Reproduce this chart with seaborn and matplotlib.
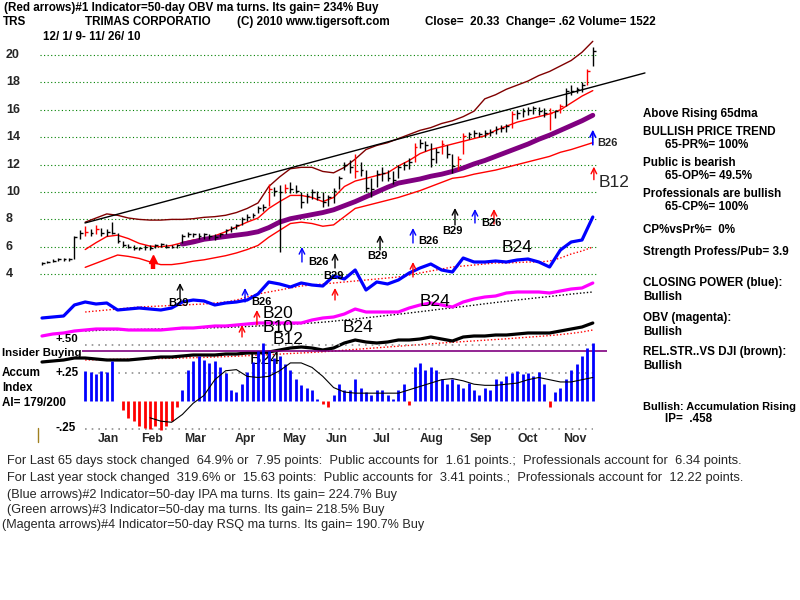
import numpy as np
import matplotlib
matplotlib.use("Agg")
import matplotlib.pyplot as plt
import matplotlib.transforms as mtransforms
from matplotlib.lines import Line2D
import seaborn as sns

sns.set_theme(style="white")
plt.rcParams['font.family'] = ['Liberation Sans', 'DejaVu Sans']

# ---------------- data (x = week index, 0 = first week of Dec 2009) ----------------
bar_weeks = np.arange(0, 51.01, 0.5)
price_high = [4.9, 5.0, 5.1, 5.2, 5.2, 5.2, 6.8, 7.2,
              7.5, 7.3, 7.6, 7.4, 7.3, 7.8, 7.0, 6.4,
              6.2, 6.1, 6.0, 6.1, 6.1, 6.2, 6.3, 6.2,
              6.1, 6.2, 6.9, 7.1, 7.0, 7.0, 7.0, 6.9,
              6.9, 7.0, 7.3, 7.5, 7.7, 8.2, 8.4, 8.5,
              9.0, 9.1, 10.6, 10.4, 10.5, 10.6, 10.7, 10.5,
              10.0, 9.9, 10.2, 10.1, 10.0, 9.8, 10.3, 11.2,
              12.2, 12.3, 12.8, 12.2, 11.6, 11.0, 11.6, 11.8,
              11.6, 11.5, 12.0, 12.2, 12.5, 13.6, 13.9, 13.7,
              13.6, 13.2, 13.8, 13.4, 12.8, 12.6, 14.3, 14.4,
              14.5, 14.4, 14.5, 14.6, 14.8, 14.9, 15.0, 15.9,
              16.0, 16.1, 16.2, 16.3, 16.2, 16.1, 16.1, 16.0,
              16.4, 17.6, 17.8, 17.7, 18.0, 19.0, 20.6]
price_low = [4.7, 4.8, 4.9, 5.0, 5.0, 5.0, 5.1, 6.6,
             6.8, 6.8, 6.9, 6.8, 6.8, 6.9, 6.3, 6.0,
             5.9, 5.8, 5.8, 5.8, 5.8, 5.9, 6.0, 5.9,
             5.9, 5.9, 6.3, 6.7, 6.7, 6.6, 6.6, 6.6,
             6.5, 6.7, 6.9, 7.1, 7.3, 7.6, 7.9, 8.1,
             8.5, 8.6, 9.0, 9.7, 5.6, 9.9, 9.9, 9.9,
             8.8, 9.2, 9.5, 9.4, 8.9, 9.0, 9.2, 10.2,
             11.6, 11.4, 11.0, 11.2, 10.0, 9.6, 10.4, 10.8,
             10.8, 10.6, 11.0, 11.6, 11.7, 12.2, 13.2, 13.0,
             11.8, 12.1, 12.8, 12.5, 11.4, 11.6, 12.8, 13.9,
             14.0, 14.0, 14.0, 14.1, 14.2, 14.4, 14.4, 14.7,
             15.3, 15.5, 15.6, 15.7, 15.6, 15.5, 14.5, 15.4,
             15.8, 16.3, 17.1, 17.2, 17.3, 17.8, 19.2]
price_close = [4.8, 4.9, 5.0, 5.1, 5.1, 5.1, 6.7, 7.0,
               7.1, 7.0, 7.3, 7.0, 7.1, 7.0, 6.4, 6.1,
               6.0, 5.9, 5.9, 6.0, 5.9, 6.1, 6.2, 6.0,
               6.0, 6.1, 6.8, 6.9, 6.9, 6.8, 6.9, 6.8,
               6.7, 6.9, 7.2, 7.4, 7.6, 8.0, 8.2, 8.3,
               8.8, 8.9, 10.2, 10.1, 10.0, 10.3, 10.2, 10.1,
               9.3, 9.7, 10.0, 9.6, 9.3, 9.6, 10.1, 11.0,
               12.0, 11.8, 11.5, 11.6, 10.3, 10.2, 11.3, 11.4,
               11.0, 10.9, 11.8, 12.0, 12.2, 13.3, 13.6, 13.4,
               12.4, 12.9, 13.5, 12.8, 11.9, 12.4, 14.1, 14.2,
               14.3, 14.2, 14.3, 14.4, 14.6, 14.7, 14.8, 15.7,
               15.8, 15.9, 16.0, 16.1, 15.9, 15.8, 15.8, 15.9,
               16.3, 17.4, 17.4, 17.5, 17.8, 18.8, 20.3]
red_bars = [8, 10, 42, 45, 58, 69, 74, 77, 78, 87, 94, 96, 101]

weeks = np.arange(52)
band_weeks = np.arange(4, 52)
upper_band = [7.8, 8.1, 8.4, 8.3, 8.1, 8.0, 7.95, 7.95, 8.0, 8.0,
              8.05, 8.15, 8.2, 8.3, 8.5, 8.8, 9.2, 10.4, 11.1, 11.7,
              11.8, 11.8, 11.5, 11.4, 11.8, 12.4, 13.1, 13.4, 13.6, 13.9,
              14.2, 14.5, 14.7, 15.0, 15.2, 15.5, 15.9, 16.8, 17.1, 17.5,
              17.8, 18.1, 18.5, 18.8, 19.2, 19.6, 20.2, 21.0]
mid_band = [5.8, 6.3, 6.75, 6.85, 6.6, 6.25, 6.05, 6.0, 6.1, 6.3,
            6.5, 6.6, 6.8, 7.1, 7.45, 7.8, 8.1, 8.8, 9.3, 9.75,
            9.75, 9.6, 9.3, 9.6, 10.4, 10.8, 11.0, 11.2, 11.4, 11.9,
            12.3, 12.8, 13.1, 13.3, 13.5, 13.7, 13.9, 14.1, 14.5, 14.8,
            15.1, 15.3, 15.5, 15.7, 16.0, 16.5, 17.0, 17.4]
low_band = [4.5, 4.8, 5.1, 5.4, 5.3, 5.15, 4.9, 4.7, 4.7, 4.8,
            4.95, 5.05, 5.2, 5.35, 5.55, 5.8, 6.1, 6.7, 7.2, 7.7,
            7.8, 7.7, 7.5, 7.6, 8.2, 8.8, 9.0, 9.2, 9.4, 9.6,
            9.85, 10.1, 10.4, 10.7, 11.0, 11.1, 11.3, 11.45, 11.6, 11.8,
            12.0, 12.2, 12.4, 12.6, 12.9, 13.1, 13.35, 13.6]
ma65_weeks = np.arange(13, 52)
ma65 = [6.2, 6.35, 6.55, 6.65, 6.75, 6.85, 6.95, 7.1, 7.4, 7.8,
        8.05, 8.2, 8.35, 8.5, 8.7, 9.0, 9.3, 9.65, 10.0, 10.35,
        10.65, 10.8, 10.95, 11.15, 11.3, 11.5, 11.75, 12.05, 12.3, 12.6,
        12.9, 13.2, 13.5, 13.85, 14.15, 14.5, 14.85, 15.2, 15.6]
trend_weeks = [3.98, 55.83]
trend_price = [7.74, 18.69]
price_ticks = [20, 18, 16, 14, 12, 10, 8, 6, 4]

# indicator panel (arbitrary units)
closing_power = [52, 53, 54, 65, 68, 66, 67, 60, 61, 62,
                 61, 60, 62, 68, 70, 69, 65, 67, 68, 70,
                 76, 88, 86, 83, 87, 85, 84, 94, 91, 100,
                 80, 88, 86, 90, 97, 102, 106, 100, 98, 112,
                 108, 108, 109, 108, 110, 111, 108, 103, 120, 128,
                 130, 153]
cp_ma = [58, 59, 60, 61, 62, 63, 63.5, 64, 64.5, 65,
         65.5, 66, 67, 68, 70, 73, 76, 78, 80, 82,
         84, 85, 86, 87, 88, 89, 90, 91, 92, 93,
         95, 97, 99, 101, 103, 104, 105, 106, 107, 107,
         107.5, 108, 108, 109, 112, 116, 119, 123]
obv = [34, 36, 37, 39, 40, 41, 41, 41, 40, 40,
       40, 40, 41, 42, 42, 43, 44, 44, 45, 46,
       47, 47, 47, 47, 47, 50, 52, 53, 56, 61,
       58, 58, 58, 58, 62, 65, 67, 65, 63, 68,
       71, 73, 74, 77, 78, 78, 78, 77, 79, 81,
       82, 87]
obv_ma = [39, 39.5, 40, 40.2, 40.4, 40.6, 40.8, 41, 41.2, 41.5,
          41.8, 42, 42.3, 42.6, 43, 43.5, 44, 44.6, 45.2, 45.8,
          46.4, 47, 47.8, 48.8, 50, 51, 52.2, 53.4, 54.6, 55.8,
          57, 58.3, 59.6, 61, 62.2, 63.5, 64.8, 66.2, 67.5, 68.7,
          70, 71.2, 72.4, 73.5, 74.7, 75.9, 77, 78]
rel_str = [8, 9, 10, 12, 12, 11, 10, 10, 10, 11,
           12, 13, 13, 14, 15, 15, 15, 16, 16, 17,
           17, 18, 20, 22, 23, 22, 20, 22, 27, 30,
           28, 27, 28, 30, 30, 31, 33, 31, 29, 33,
           34, 34, 35, 35, 36, 37, 37, 37, 39, 41,
           43, 47]
rs_ma = [10, 10.3, 10.5, 10.7, 10.9, 11.1, 11.3, 11.5, 11.7, 12,
         12.3, 12.6, 13, 13.4, 13.8, 14.3, 14.8, 15.3, 15.9, 16.5,
         17, 17.6, 18.2, 19, 19.8, 20.6, 21.4, 22.2, 23, 23.8,
         24.6, 25.4, 26.2, 27, 27.7, 28.4, 29.1, 29.8, 30.5, 31.2,
         32, 32.8, 33.6, 34.4, 35.4, 36.6, 38, 40]

# accumulation index (half-week steps, weeks 4..51)
acc_weeks = np.arange(4, 51.01, 0.5)
accum = [.27, .26, .24, .27, .26, .36, .0, -.08,
         -.15, -.18, -.22, -.24, -.25, -.22, -.26, -.22,
         -.18, -.05, .10, .28, .36, .40, .37, .34,
         .36, .30, .25, .10, .08, .15, .26, .35,
         .45, .52, .45, .38, .40, .33, .28, .20,
         .14, .12, .10, .02, -.03, -.05, .05, .15,
         .10, .10, .20, .12, .08, .05, .10, .10,
         .05, .02, .10, .15, -.04, .30, .34, .28,
         .30, .28, .20, .15, .20, .15, .12, .16,
         .10, .05, .12, .10, .20, .18, .22, .25,
         .27, .24, .25, .22, .26, .15, -.05, .08,
         .12, .20, .28, .33, .40, .47, .52]
acc_ma_weeks = np.arange(10, 52)
accum_ma = [-.15, -.18, -.19, -.12, -.02, .05, .19, .27, .28, .22,
            .21, .22, .27, .34, .34, .30, .22, .12, .08, .07,
            .07, .07, .07, .07, .10, .13, .16, .19, .20, .18,
            .15, .14, .14, .15, .16, .19, .21, .19, .17, .17,
            .19, .21]
insider_level = 0.45
acc_levels = [0.5, 0.25, -0.25]

months = ['Jan', 'Feb', 'Mar', 'Apr', 'May', 'Jun', 'Jul', 'Aug', 'Sep', 'Oct', 'Nov']
month_weeks = [6.11, 10.19, 14.17, 18.8, 23.33, 27.31, 31.48, 36.1, 40.65, 44.99, 49.35]

# buy signals in the indicator panel: week, arrow from, arrow to, colour
sig_week = [38.24, 40.09, 41.85, 34.35, 31.3, 24.07, 27.13, 27.13, 34.35, 12.78, 18.8, 19.9, 18.52]
sig_from = [145, 147, 146, 127, 120, 108, 102, 70, 93, 72, 68, 45, 33]
sig_to = [162, 161, 161, 142, 135, 123, 117, 82, 108, 87, 82, 60, 45]
sig_color = ['black', 'blue', 'red', 'blue', 'black', 'blue', 'black', 'red', 'red',
             'black', 'blue', 'red', 'red']
lab_text = ['B29', 'B26', 'B26', 'B29', 'B26', 'B29', 'B29', 'B26',
            'B20', 'B10', 'B12', 'B24', 'B24', 'B24', 'B24']
lab_week = [37.04, 40.65, 34.81, 30.1, 24.63, 26.02, 11.67, 19.35,
            20.46, 20.46, 21.4, 19.26, 27.87, 35.0, 42.6]
lab_level = [139, 147, 129, 114, 108, 94, 67, 68,
             57, 43, 30, 10, 42, 68, 122]
lab_big = [False] * 8 + [True] * 7

# ---------------- layout helpers (pixel boxes on an 800x600 canvas) ----------------
W, H = 800, 600
X0, X1 = 40, 600
XW0, PXW = 42.0, 10.8   # pixel of week 0, pixels per week
fig = plt.figure(figsize=(8, 6), dpi=100)
fig.patch.set_facecolor('white')
MAIN = 8.4


def box(y0, y1):
    return [X0 / W, 1 - y1 / H, (X1 - X0) / W, (y1 - y0) / H]


def wk(px):
    return (px - XW0) / PXW


xlim = (wk(X0), wk(X1))


def t(x, y, s, size=MAIN, weight='bold', **kw):
    return fig.text(x / W, 1 - y / H, s, fontsize=size, fontweight=weight,
                    va='center', ha='left', color='black', **kw)


def clean(ax):
    ax.set_xlim(*xlim)
    ax.patch.set_alpha(0)
    for s in ax.spines.values():
        s.set_visible(False)
    ax.set_xticks([])
    ax.set_yticks([])
    ax.set_xlabel('')
    ax.set_ylabel('')


# ---------------- price panel ----------------
ax_p = fig.add_axes(box(30, 290))
clean(ax_p)
ax_p.set_ylim(20 - (290 - 55) / 13.7, 20 + (55 - 30) / 13.7)
ax_p.hlines(price_ticks, wk(40), wk(597), colors='#008000', lw=0.8,
            linestyles=(0, (1, 2.2)))
ytr = mtransforms.blended_transform_factory(fig.transFigure, ax_p.transData)
for p in price_ticks:
    ax_p.text(6 / W, p, str(p), transform=ytr, fontsize=9, fontweight='bold',
              va='center', ha='left')

sns.lineplot(x=band_weeks, y=upper_band, ax=ax_p, color='#800000', lw=1, legend=False)
sns.lineplot(x=band_weeks, y=mid_band, ax=ax_p, color='#ff0000', lw=1, legend=False)
sns.lineplot(x=band_weeks, y=low_band, ax=ax_p, color='#ff0000', lw=1, legend=False)
sns.lineplot(x=ma65_weeks, y=ma65, ax=ax_p, color='#800080', lw=3.5, legend=False)
ax_p.plot(trend_weeks, trend_price, color='black', lw=1, clip_on=False)

bar_cols = ['#ff0000' if i in red_bars else 'black' for i in range(len(bar_weeks))]
ax_p.vlines(bar_weeks, price_low, price_high, colors=bar_cols, lw=1.0)
ax_p.hlines(price_close, bar_weeks, bar_weeks + 0.25, colors=bar_cols, lw=1.0)
ax_p.set_xlim(*xlim)
ax_p.set_ylim(20 - (290 - 55) / 13.7, 20 + (55 - 30) / 13.7)
ax_p.set_xlabel('')
ax_p.set_ylabel('')

# price panel signals
ax_p.vlines([10.3], 4.35, 5.05, colors='red', lw=3.2)
ax_p.plot([10.3], [5.1], marker='^', color='red', markersize=6, clip_on=False)
ax_p.annotate('', xy=(51.0, 14.55), xytext=(51.0, 13.45),
              arrowprops=dict(arrowstyle='->', color='blue', lw=1.2, mutation_scale=10,
                              shrinkA=0, shrinkB=0), annotation_clip=False)
ax_p.annotate('', xy=(51.1, 11.85), xytext=(51.1, 10.9),
              arrowprops=dict(arrowstyle='->', color='red', lw=1, mutation_scale=10,
                              shrinkA=0, shrinkB=0), annotation_clip=False)
ax_p.text(51.4, 13.55, 'B26', fontsize=8, fontweight='bold', va='center', clip_on=False)
ax_p.text(51.5, 10.66, 'B12', fontsize=12.5, va='center', clip_on=False)

# ---------------- indicator panel ----------------
ax_i = fig.add_axes(box(120, 370))
clean(ax_i)
sns.lineplot(x=band_weeks, y=cp_ma, ax=ax_i, color='#ff0000', lw=1,
             linestyle=(0, (1, 1.5)), legend=False)
sns.lineplot(x=weeks, y=closing_power, ax=ax_i, color='#0000ff', lw=2.3, legend=False)
sns.lineplot(x=band_weeks, y=obv_ma, ax=ax_i, color='black', lw=1,
             linestyle=(0, (1, 1.5)), legend=False)
sns.lineplot(x=weeks, y=obv, ax=ax_i, color='#ff00ff', lw=2.3, legend=False)
sns.lineplot(x=band_weeks, y=rs_ma, ax=ax_i, color='#ff0000', lw=1,
             linestyle=(0, (1, 1.5)), legend=False)
sns.lineplot(x=weeks, y=rel_str, ax=ax_i, color='black', lw=2.3, legend=False)
ax_i.set_xlim(*xlim)
ax_i.set_ylim(0, 250)
ax_i.set_xlabel('')
ax_i.set_ylabel('')

for w_, a, b, c in zip(sig_week, sig_from, sig_to, sig_color):
    ax_i.annotate('', xy=(w_, b), xytext=(w_, a),
                  arrowprops=dict(arrowstyle='->', color=c, lw=1, mutation_scale=10,
                                  shrinkA=0, shrinkB=0))
for s, w_, lv, big in zip(lab_text, lab_week, lab_level, lab_big):
    if big:
        ax_i.text(w_, lv, s, fontsize=12.5, va='center', ha='left', color='black')
    else:
        ax_i.text(w_, lv, s, fontsize=8, fontweight='bold', va='center', ha='left',
                  color='black')

# ---------------- accumulation panel ----------------
ax_a = fig.add_axes(box(330, 432))
clean(ax_a)
ax_a.hlines(acc_levels, wk(85), wk(593), colors='#909090', lw=1.2,
            linestyles=(0, (1, 3)))
ax_a.hlines([insider_level], wk(82), wk(607), colors='#800080', lw=1.2, clip_on=False)
acc_cols = ['#ff0000' if v < 0 else '#0000ff' for v in accum]
ax_a.vlines(acc_weeks, 0, accum, colors=acc_cols, lw=2.0)
sns.lineplot(x=acc_ma_weeks, y=accum_ma, ax=ax_a, color='black', lw=0.8, legend=False)
ax_a.set_xlim(*xlim)
ax_a.set_ylim((401 - 432) / 112, (401 - 330) / 112)
ax_a.set_xticks(month_weeks)
ax_a.set_xticklabels(months, fontsize=8.8, fontweight='bold')
ax_a.tick_params(axis='x', length=0, pad=1)
ax_a.set_xlabel('')
ax_a.set_ylabel('')

fig.add_artist(Line2D([38 / W, 38 / W], [1 - 428 / H, 1 - 442 / H], color='#a08020', lw=1))

# ---------------- texts ----------------
t(4, 8, '(Red arrows)#1 Indicator=50-day OBV ma turns. Its gain= 234% Buy')
t(3, 22, 'TRS')
t(85, 22, 'TRIMAS CORPORATIO')
t(237, 22, '(C) 2010 www.tigersoft.com')
t(425, 22, 'Close=  20.33  Change= .62 Volume= 1522')
t(43, 37, '12/ 1/ 9- 11/ 26/ 10')

right = [(643, 114, 'Above Rising 65dma'),
         (643, 132, 'BULLISH PRICE TREND'),
         (665, 145, '65-PR%= 100%'),
         (643, 163, 'Public is bearish'),
         (665, 176, '65-OP%= 49.5%'),
         (643, 194, 'Professionals are bullish'),
         (665, 207, '65-CP%= 100%'),
         (643, 230, 'CP%vsPr%=  0%'),
         (643, 252, 'Strength Profess/Pub= 3.9'),
         (643, 283, 'CLOSING POWER (blue):'),
         (643, 297, 'Bullish'),
         (643, 318, 'OBV (magenta):'),
         (643, 332, 'Bullish'),
         (643, 352, 'REL.STR..VS DJI (brown):'),
         (643, 366, 'Bullish'),
         (665, 419, 'IP=  .458')]
for x, y, s in right:
    t(x, y, s)
t(643, 407, 'Bullish: Accumulation Rising', size=7.9)

t(55, 339, '+.50', size=8.2)
t(2, 353, 'Insider Buying', size=8.2)
t(2, 373, 'Accum')
t(55, 373, '+.25')
t(2, 388, 'Index')
t(2, 403, 'AI= 179/200')
t(55, 428, '-.25')

bottom = [(7, 461, 745, 'For Last 65 days stock changed  64.9% or  7.95 points:  Public accounts for  1.61 points.;  Professionals account for  6.34 points.'),
          (7, 478, 748, 'For Last year stock changed  319.6% or  15.63 points:  Public accounts for  3.41 points.;  Professionals account for  12.22 points.'),
          (7, 495, 399, '(Blue arrows)#2 Indicator=50-day IPA ma turns. Its gain= 224.7% Buy'),
          (7, 510, 385, '(Green arrows)#3 Indicator=50-day ma turns. Its gain= 218.5% Buy'),
          (2, 525, 425, '(Magenta arrows)#4 Indicator=50-day RSQ ma turns. Its gain= 190.7% Buy')]
renderer = fig.canvas.get_renderer()
for x, y, xr, s in bottom:
    txt = fig.text(x / W, 1 - y / H, s, fontsize=8, va='center', ha='left')
    wpx = txt.get_window_extent(renderer=renderer).width
    txt.set_fontsize(min(10.0, 8 * (xr - x) / wpx))

fig.savefig('out.png', dpi=100, facecolor='white')
